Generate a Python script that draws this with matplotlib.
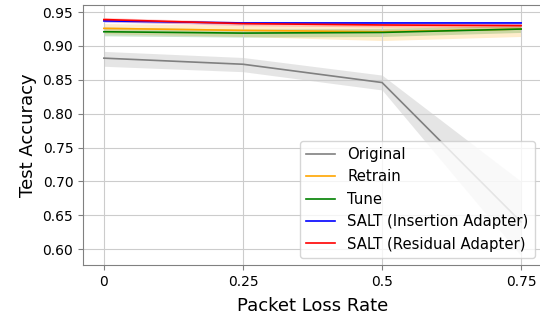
import matplotlib
matplotlib.use("Agg")
import matplotlib.pyplot as plt
import numpy as np

loss_rates = [0, 0.25, 0.5, 0.75]
x_tick_labels = ["0", "0.25", "0.5", "0.75"]

original_mean = [0.882, 0.873, 0.846, 0.640]
original_lo = [0.870, 0.862, 0.835, 0.590]
original_hi = [0.892, 0.883, 0.857, 0.700]

retrain_mean = [0.926, 0.923, 0.921, 0.925]
retrain_lo = [0.918, 0.914, 0.908, 0.914]
retrain_hi = [0.933, 0.931, 0.931, 0.931]

tune_mean = [0.921, 0.919, 0.920, 0.925]
tune_lo = [0.915, 0.913, 0.914, 0.920]
tune_hi = [0.928, 0.925, 0.926, 0.930]

ins_mean = [0.937, 0.934, 0.934, 0.934]
ins_lo = [0.935, 0.932, 0.932, 0.931]
ins_hi = [0.939, 0.936, 0.936, 0.936]

res_mean = [0.939, 0.933, 0.931, 0.930]
res_lo = [0.936, 0.930, 0.928, 0.927]
res_hi = [0.942, 0.936, 0.934, 0.933]

series = [
    ("Original", original_mean, original_lo, original_hi, "gray"),
    ("Retrain", retrain_mean, retrain_lo, retrain_hi, "orange"),
    ("Tune", tune_mean, tune_lo, tune_hi, "green"),
    ("SALT (Insertion Adapter)", ins_mean, ins_lo, ins_hi, "blue"),
    ("SALT (Residual Adapter)", res_mean, res_lo, res_hi, "red"),
]

fig = plt.figure(figsize=(5.4, 3.17), dpi=100)
ax = fig.add_axes([83/540, 1 - 265/317, (542-83)/540, (265-5)/317])

for name, m, lo, hi, c in series:
    ax.plot(loss_rates, m, color=c, lw=1.2, label=name)
    ax.fill_between(loss_rates, lo, hi, color=c, alpha=0.2, lw=0)

ax.set_xticks(loss_rates)
ax.set_xticklabels(x_tick_labels)
ax.set_xlim(-0.0375, 0.7875)
ax.set_ylim(0.5765, 0.9605)
ax.set_yticks([0.60, 0.65, 0.70, 0.75, 0.80, 0.85, 0.90, 0.95])
ax.tick_params(labelsize=10, color="gray")
ax.grid(True, color="#cccccc", lw=0.8)
for s in ax.spines.values():
    s.set_color("gray")
ax.set_xlabel("Packet Loss Rate", fontsize=13, labelpad=6)
ax.set_ylabel("Test Accuracy", fontsize=13)
ax.legend(loc="lower right", fontsize=10.7, framealpha=0.8)

fig.savefig("out.png", dpi=100)
